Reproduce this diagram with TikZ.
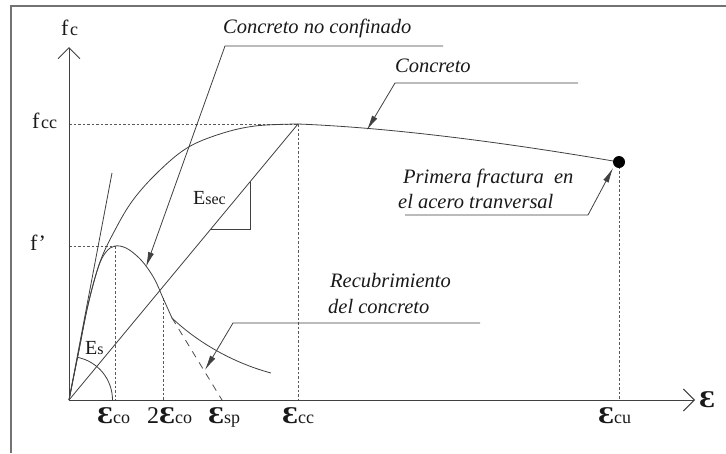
\documentclass[tikz,border=0pt]{standalone}
\usepackage{graphicx}
\usepackage{fontspec}
\setmainfont{Liberation Serif}
\usetikzlibrary{arrows.meta}
\newcommand{\bigeps}{{\fontsize{24}{24}\selectfont\scalebox{1.25}[1]{\bfseries Ɛ}}}
\newcommand{\smallsub}[1]{{\fontsize{18}{18}\selectfont #1}}
\tikzset{
  ln/.style={draw=black!75, line width=0.8pt},
  axisline/.style={draw=black!75, line width=0.9pt, -{Straight Barb[length=11pt,width=22pt]}},
  guide/.style={draw=black!65, line width=0.7pt, dash pattern=on 2.5pt off 2pt},
  coverdash/.style={draw=black!70, line width=0.8pt, dash pattern=on 7pt off 6pt},
  lead/.style={ln, -{Latex[length=15pt,width=6pt]}},
  lbl/.style={anchor=base west, inner sep=0pt, font=\fontsize{20.5}{25}\selectfont\itshape, text=black!90},
  axlbl/.style={anchor=base west, inner sep=0pt, text=black!90},
}
\begin{document}
\begin{tikzpicture}[x=1pt,y=-1pt]
\useasboundingbox (0,0) rectangle (726,453);
\fill[white] (0,0) rectangle (726,453);
% frame
\draw[black!55, line width=1.3pt] (11,453) -- (11,6) -- (726,6);

% key coordinates
\coordinate (O) at (69,400);
\coordinate (ytip) at (69,47);
\coordinate (xtip) at (695,400);
\coordinate (peakC) at (298,124);
\coordinate (peakU) at (115,246);
\coordinate (fail) at (619,162);
\coordinate (kink) at (172,318);
\coordinate (twoco) at (163,298);

% guides
\draw[guide] (69,124) -- (peakC);
\draw[guide] (69,246) -- (peakU);
\draw[guide] (peakU) -- (115,400);
\draw[guide] (twoco) -- (163,400);
\draw[guide] (peakC) -- (298,400);
\draw[guide] (fail) -- (619,400);

% axes
\draw[axisline] (O) -- (ytip);
\draw[axisline] (O) -- (xtip);

% tangent line and secant
\draw[ln] (O) -- (112,173);
\draw[ln] (O) -- (peakC);
\draw[ln] (211,229) -- (250,229) -- (250,182);
% Es arc
\draw[ln] (112.5,400) arc[start angle=0, end angle=78, radius=43.5pt];

% confined concrete curve
\draw[ln] plot[smooth, tension=0.6] coordinates {(69,400) (79,350) (88,305) (100,262) (115,230) (133,200) (158,172) (187,148) (220,134) (255,126) (298,124)};
\draw[ln] (peakC) .. controls (400,128) and (520,145) .. (fail);
\fill[black] (fail) circle (6pt);

% unconfined concrete curve
\draw[ln] plot[smooth, tension=0.6] coordinates {(69,400) (79,350) (88,305) (98,268) (106,252) (115,246) (126,248) (137,256) (146,266) (155,280) (163,298) (172,318)};
\draw[ln] (kink) .. controls (195,340) and (230,362) .. (271,373);
\draw[coverdash] (kink) -- (222,400);

% leaders
\coordinate (u1s) at (225,46);  \coordinate (u1e) at (443,46);  \coordinate (t1) at (146,267);
\coordinate (u2s) at (395,83);  \coordinate (u2e) at (578,83);  \coordinate (t2) at (367,130);
\coordinate (u3s) at (405,215); \coordinate (u3e) at (588,215); \coordinate (t3) at (613,168);
\coordinate (u4s) at (233,323); \coordinate (u4e) at (480,323); \coordinate (t4) at (205,370);
\draw[lead] (u1e) -- (u1s) -- (t1);
\draw[lead] (u2e) -- (u2s) -- (t2);
\draw[lead] (u3s) -- (u3e) -- (t3);
\draw[lead] (u4e) -- (u4s) -- (t4);

% italic labels
\node[lbl] (lnc) at (223,33) {Concreto no confinado};
\node[lbl] (lc) at (395,72) {Concreto};
\node[lbl] (lp1) at (403,183) {Primera fractura~ en};
\node[lbl] (lp2) at (398,208) {el acero tranversal};
\node[lbl] (lr1) at (330,287) {Recubrimiento};
\node[lbl] (lr2) at (328,313) {del concreto};

% axis labels
\node[axlbl] (lfc) at (61,35) {{\fontsize{22}{22}\selectfont f}\hspace{1.5pt}\smallsub{c}};
\node[axlbl] (lfcc) at (32,128) {{\fontsize{22}{22}\selectfont f}\hspace{1.5pt}\smallsub{cc}};
\node[axlbl] (lfp) at (30,250) {{\fontsize{22}{22}\selectfont f’}};
\node[axlbl] (les) at (85,354) {{\fontsize{20}{20}\selectfont E}{\fontsize{16}{16}\selectfont s}};
\node[axlbl] (lesec) at (193,204) {{\fontsize{20}{20}\selectfont E}{\fontsize{16}{16}\selectfont sec}};
\node[axlbl] (leco) at (97,423) {\bigeps\smallsub{co}};
\node[axlbl] (l2eco) at (147,423) {{\fontsize{24}{24}\selectfont 2}\bigeps\smallsub{co}};
\node[axlbl] (lesp) at (208,423) {\bigeps\smallsub{sp}};
\node[axlbl] (lecc) at (282,423) {\bigeps\smallsub{cc}};
\node[axlbl] (lecu) at (598,423) {\bigeps\smallsub{cu}};
\node[axlbl] (leps) at (699,407) {\bigeps};
\end{tikzpicture}
\end{document}
